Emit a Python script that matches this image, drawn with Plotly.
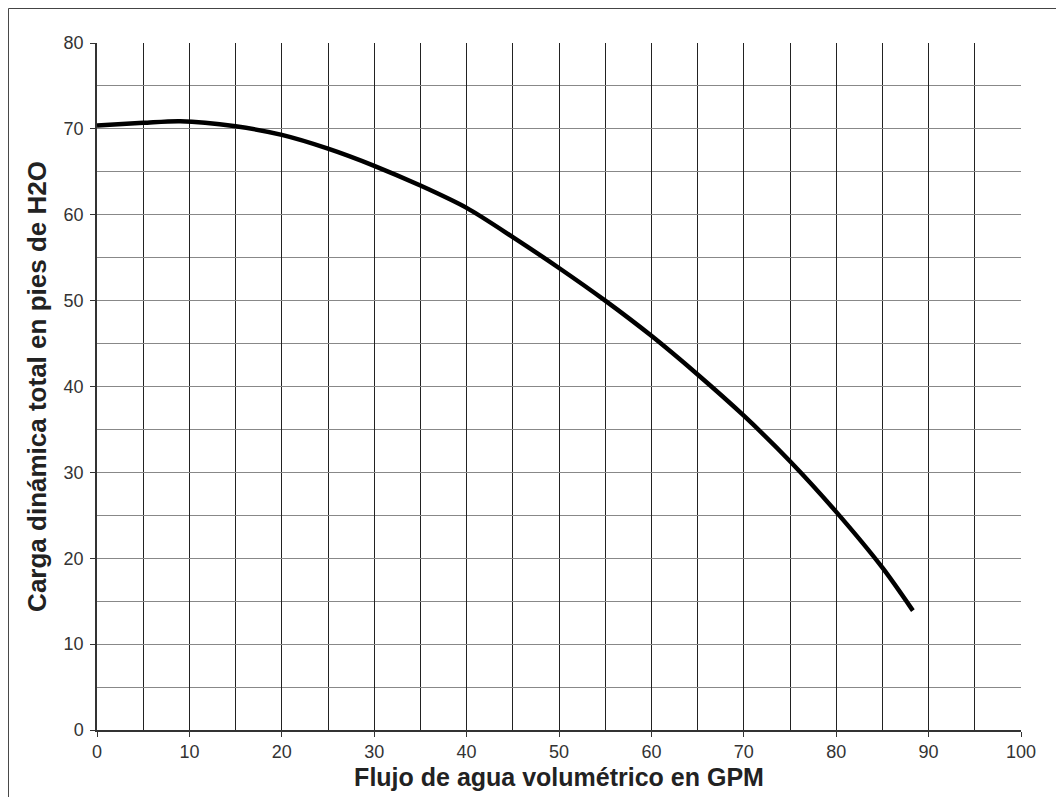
import plotly.graph_objects as go

flow_gpm = [0, 5, 9, 15, 20, 25, 30, 35, 40, 45, 50, 55, 60, 65, 70, 75, 80, 85, 88.3]
head_ft = [70.4, 70.7, 70.9, 70.3, 69.3, 67.7, 65.7, 63.4, 60.8, 57.4, 53.8, 50.0, 45.9, 41.4, 36.6, 31.3, 25.4, 18.9, 13.9]

x_title = "Flujo de agua volumétrico en GPM"
y_title = "Carga dinámica total en pies de H2O"

fig = go.Figure()
fig.add_trace(go.Scatter(
    x=flow_gpm, y=head_ft, mode="lines",
    line=dict(color="black", width=4.5, shape="spline", smoothing=0.8),
    hoverinfo="skip", showlegend=False,
))

font_family = "Liberation Sans, Arial, sans-serif"

fig.update_xaxes(
    range=[0, 100], dtick=10, tick0=0, automargin=False,
    showgrid=True, gridcolor="#222222", gridwidth=1,
    minor=dict(dtick=5, showgrid=True, gridcolor="#222222", gridwidth=1),
    ticks="outside", ticklen=5, tickcolor="#333333",
    showline=True, linecolor="#333333", linewidth=1.5,
    zeroline=False,
    tickfont=dict(family=font_family, size=18, color="#333333"),
    title=dict(text=x_title, font=dict(family=font_family, size=25, color="#222222", weight="bold"), standoff=7),
)
fig.update_yaxes(
    range=[0, 80], dtick=10, tick0=0, automargin=False,
    showgrid=True, gridcolor="#888888", gridwidth=1,
    minor=dict(dtick=5, showgrid=True, gridcolor="#888888", gridwidth=1),
    ticks="outside", ticklen=5, tickcolor="#333333",
    ticklabelstandoff=3,
    showline=True, linecolor="#333333", linewidth=1.5,
    zeroline=False,
    tickfont=dict(family=font_family, size=18, color="#333333"),
    title=dict(text=y_title, font=dict(family=font_family, size=26, color="#222222", weight="bold"), standoff=10),
)

fig.update_layout(
    width=1056, height=789,
    margin=dict(l=89, r=43, t=35, b=67),
    paper_bgcolor="white", plot_bgcolor="white",
    shapes=[dict(type="rect", xref="paper", yref="paper",
                 x0=-0.0958, x1=1.2, y0=-0.3, y1=1.0502,
                 line=dict(color="#444444", width=1), layer="below")],
)

fig.write_html("out.html")
